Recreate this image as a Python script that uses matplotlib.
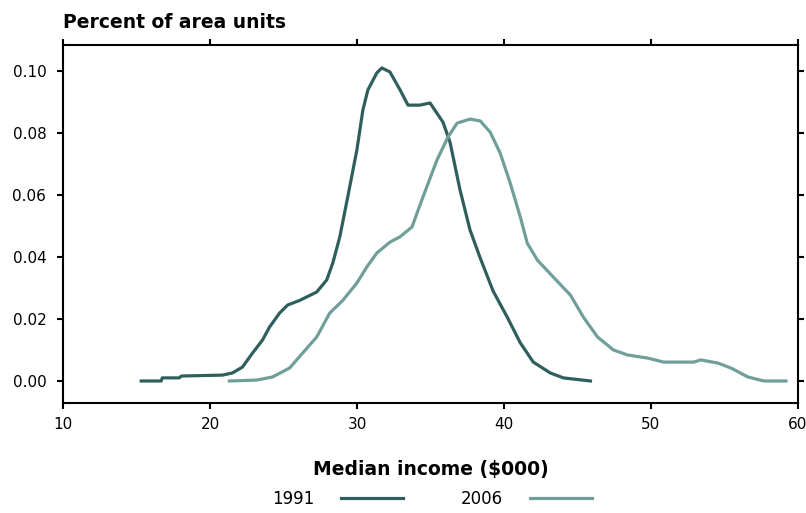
import numpy as np
import matplotlib
matplotlib.use("Agg")
import matplotlib.pyplot as plt
from matplotlib.ticker import FormatStrFormatter

# density of area units by median income
x_1991 = [15.32, 16.68, 16.75, 17.91, 18.05, 20.85, 21.53, 22.21, 22.89, 23.57,
          24.05, 24.73, 25.28, 26.10, 27.26, 27.94, 28.35, 28.83, 29.37, 29.99,
          30.40, 30.74, 31.35, 31.69, 32.24, 32.92, 33.47, 34.28, 34.97, 35.85,
          36.33, 37.01, 37.69, 38.38, 39.26, 40.22, 41.11, 41.99, 43.15, 44.04,
          45.88]
y_1991 = [0.0, 0.0, 0.001, 0.001, 0.0016, 0.0019, 0.0026, 0.0045, 0.009, 0.0132,
          0.0174, 0.0219, 0.0245, 0.026, 0.0287, 0.0326, 0.038, 0.0465, 0.0594, 0.0745,
          0.0874, 0.0939, 0.0994, 0.101, 0.0997, 0.094, 0.089, 0.089, 0.0897, 0.0835,
          0.077, 0.0616, 0.0487, 0.0397, 0.029, 0.0206, 0.0123, 0.0061, 0.0026, 0.001,
          0.0]

x_2006 = [21.32, 23.17, 24.26, 25.42, 26.30, 27.26, 28.14, 29.03, 29.99, 30.67,
          31.35, 32.24, 32.92, 33.74, 34.49, 35.44, 36.19, 36.81, 37.69, 38.38,
          39.06, 39.74, 40.42, 41.11, 41.58, 42.27, 43.36, 44.52, 45.40, 46.36,
          47.45, 48.40, 49.77, 50.86, 52.91, 53.38, 54.54, 55.43, 56.59, 57.68,
          59.18]
y_2006 = [0.0, 0.0003, 0.0013, 0.0042, 0.009, 0.0142, 0.0219, 0.026, 0.0316, 0.0368,
          0.0413, 0.0448, 0.0465, 0.0497, 0.0594, 0.0713, 0.0787, 0.0832, 0.0845, 0.0839,
          0.0803, 0.0735, 0.0639, 0.0529, 0.0445, 0.039, 0.0335, 0.0277, 0.0206, 0.0142,
          0.010, 0.0084, 0.0074, 0.0061, 0.0061, 0.0068, 0.0058, 0.0042, 0.0013, 0.0,
          0.0]

xticks = [10, 20, 30, 40, 50, 60]
yticks = [0.0, 0.02, 0.04, 0.06, 0.08, 0.10]

c91 = "#2f5f5d"
c06 = "#6f9e9b"

plt.rcParams["font.family"] = ["DejaVu Sans"]

fig = plt.figure(figsize=(8.06, 5.13), dpi=100)
ax = fig.add_axes([63/806, 1-403/513, (798-63)/806, (403-45)/513])

ax.plot(x_1991, y_1991, color=c91, lw=2.3, label="1991", solid_joinstyle="round")
ax.plot(x_2006, y_2006, color=c06, lw=2.3, label="2006", solid_joinstyle="round")

ax.set_xlim(10, 60)
ax.set_ylim(-0.0071, 0.1084)
ax.set_xticks(xticks)
ax.set_yticks(yticks)
ax.yaxis.set_major_formatter(FormatStrFormatter("%.2f"))
ax.tick_params(direction="out", length=4, width=1.5, labelsize=11,
               top=True, right=True, color="black")
ax.tick_params(axis="y", pad=8)
ax.tick_params(axis="x", pad=6)
for s in ax.spines.values():
    s.set_linewidth(1.5)

fig.text(63/806, 1-22/513, "Percent of area units", fontsize=13.5,
         fontweight="bold", ha="left", va="center")
fig.text(431/806, 1-470/513, "Median income ($000)", fontsize=13.5,
         fontweight="bold", ha="center", va="center")

fig.legend(loc="center", bbox_to_anchor=(432/806, 1-499/513), ncol=2,
           markerfirst=False, frameon=False, fontsize=12,
           handlelength=3.7, handletextpad=1.6, columnspacing=3.5)

fig.savefig("out.png", dpi=100)
